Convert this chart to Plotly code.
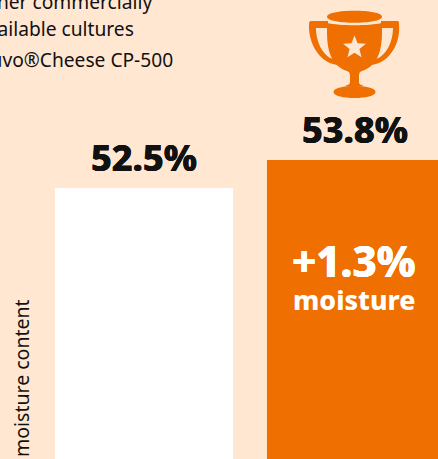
import plotly.graph_objects as go
import math

categories = ["Other commercially available cultures", "Nuvo®Cheese CP-500"]
values = [52.5, 53.8]
value_labels = ["52.5%", "53.8%"]
legend_lines = ["Other commercially", "available cultures", "Nuvo®Cheese CP-500"]
colors = ["#FFFFFF", "#EF6F00"]
BG = "#FFE7D2"
ORANGE = "#EF6F00"
W, H = 438, 459
FONT = "Noto Sans"

def X(px): return px / W
def Y(py): return 1 - py / H
def P(px, py): return f"{X(px):.5f},{Y(py):.5f}"

def ellipse(cx, cy, rx, ry):
    return (f"M{P(cx-rx,cy)} C{P(cx-rx,cy-ry*1.33)} {P(cx+rx,cy-ry*1.33)} {P(cx+rx,cy)} "
            f"C{P(cx+rx,cy+ry*1.33)} {P(cx-rx,cy+ry*1.33)} {P(cx-rx,cy)} Z")

cx = 354.5
body = (f"M{P(327,23)} C{P(340,26)} {P(369,26)} {P(382,23)} L{P(382,32)} C{P(382,50)} {P(378,66)} {P(362,71)} "
        f"C{P(359,72)} {P(359,74)} {P(359,78)} L{P(359,82)} C{P(359,85)} {P(362,85)} {P(364,86)} L{P(345,86)} "
        f"C{P(347,85)} {P(350,85)} {P(350,82)} L{P(350,78)} C{P(350,74)} {P(350,72)} {P(347,71)} "
        f"C{P(331,66)} {P(327,50)} {P(327,32)} Z")
handle_l = (f"M{P(311,21)} L{P(328,21)} L{P(328,28)} L{P(316,28)} C{P(316,42)} {P(323,56)} {P(333,59)} "
            f"L{P(338,65)} C{P(322,64)} {P(308,46)} {P(309,24)} Q{P(309,21)} {P(311,21)} Z")
handle_r = (f"M{P(398,21)} L{P(381,21)} L{P(381,28)} L{P(393,28)} C{P(393,42)} {P(386,56)} {P(376,59)} "
            f"L{P(371,65)} C{P(387,64)} {P(401,46)} {P(399,24)} Q{P(399,21)} {P(398,21)} Z")
star_pts = []
for i in range(10):
    r = 12 if i % 2 == 0 else 5.2
    a = -math.pi / 2 + i * math.pi / 5
    star_pts.append(P(cx + r * math.cos(a), 47.5 + r * math.sin(a)))
star = "M" + " L".join(star_pts) + " Z"

def sh(path, color):
    return dict(type="path", xref="paper", yref="paper", path=path, fillcolor=color, line=dict(width=0), layer="above")

shapes = [sh(ellipse(cx, 16.7, 27.5, 6), ORANGE), sh(body, ORANGE), sh(handle_l, ORANGE), sh(handle_r, ORANGE),
          sh(ellipse(cx, 92, 21, 6), ORANGE), sh(star, BG)]

def note(px, py, text, size, color="#111111", weight=400, xanchor="center", yanchor="middle", angle=0, heavy=False):
    font = dict(family=FONT, size=size, color=color, weight=weight)
    if heavy:
        font["shadow"] = f"0.3px 0 0 {color}, -0.3px 0 0 {color}"
    return dict(x=X(px), y=Y(py), xref="paper", yref="paper", text=text,
                showarrow=False, xanchor=xanchor, yanchor=yanchor, textangle=angle,
                font=font, borderpad=0, borderwidth=0)

annotations = [
    note(152, 1, legend_lines[0], 19.2, xanchor="right"),
    note(134, 28, legend_lines[1], 19.2, xanchor="right"),
    note(173, 60, legend_lines[2], 19.2, xanchor="right"),
    note(143.5, 157, value_labels[0], 36, weight=800, heavy=True),
    note(355, 129, value_labels[1], 36, weight=800, heavy=True),
    note(354, 260, "+1.3%", 42, color="#FFFFFF", weight=800, heavy=True),
    note(354, 299, "moisture", 26.7, color="#FFFFFF", weight=800),
    note(21, 378, "moisture content", 19.5, angle=-90),
]

fig = go.Figure(go.Bar(x=[0, 1], y=values, marker=dict(color=colors, line=dict(width=0)), width=0.84))
fig.update_layout(
    width=W, height=H, margin=dict(l=0, r=0, t=0, b=0), autosize=False,
    paper_bgcolor=BG, plot_bgcolor=BG, showlegend=False,
    shapes=shapes, annotations=annotations,
    xaxis=dict(range=[-144 / 212, (438 - 144) / 212], visible=False, fixedrange=True),
    yaxis=dict(range=[39.92, 61.23], visible=False, fixedrange=True),
)
fig.write_html("out.html", config=dict(displayModeBar=False),
               post_script="document.body.style.margin='0';document.body.style.overflow='hidden';")
